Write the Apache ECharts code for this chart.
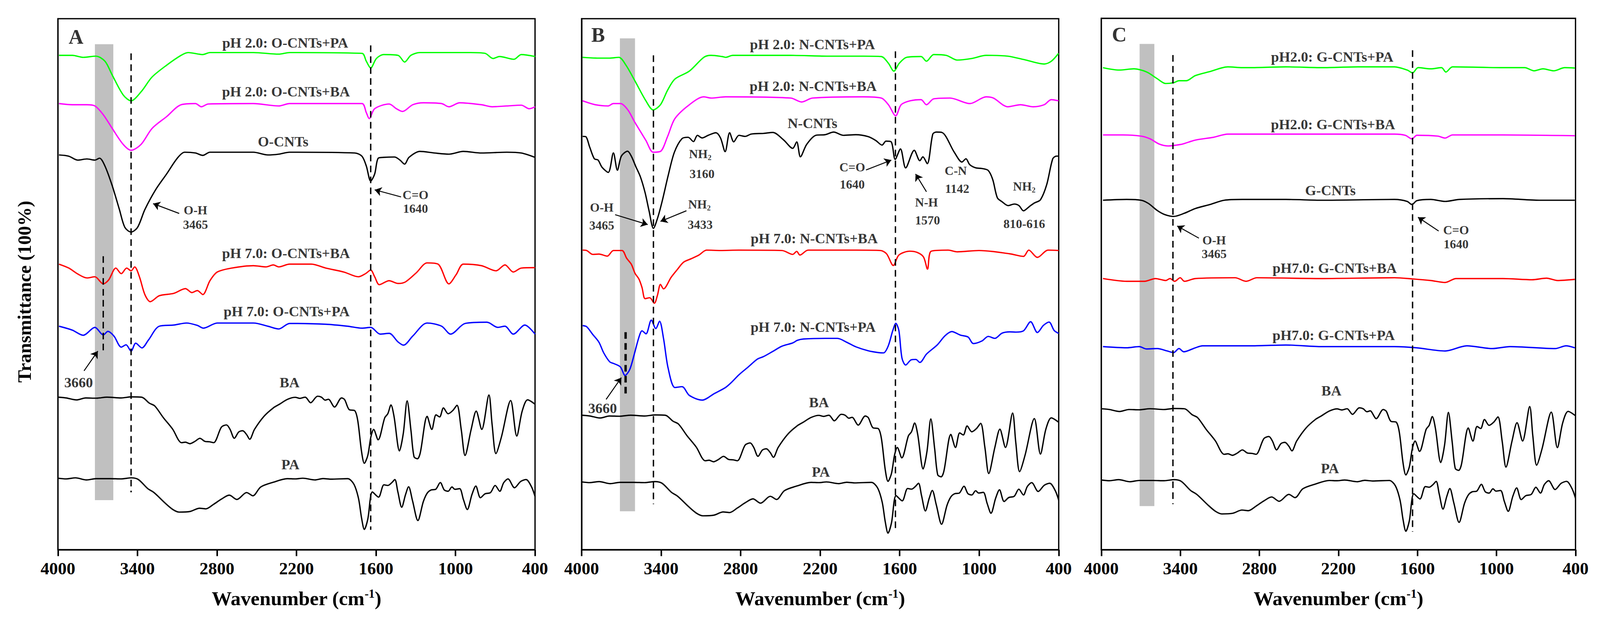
<!DOCTYPE html>
<html>
<head>
<meta charset="utf-8">
<script src="https://cdn.jsdelivr.net/npm/echarts@6/dist/echarts.min.js"></script>
<style>
  html, body { margin: 0; padding: 0; background: #fff; overflow: hidden; }
  #chart { width: 100vw; height: 100vh; }
</style>
</head>
<body>
<div id="chart"></div>
<script>
// ============================================
// FTIR spectra, three panels (O-CNTs / N-CNTs / G-CNTs)
// y values are offset transmittance units (0 = frame bottom, 100 = frame top)
// ============================================

const xTicks = [4000, 3400, 2800, 2200, 1600, 1000, 400];

// reference spectra, shifted for B and C
const baSpectrum = [[3999,28.73],[3938,28.58],[3861,28.21],[3790,28.58],[3713,28.53],[3630,28.73],[3523,28.58],[3446,28.78],[3369,28.73],[3310,27.6],[3269,27.06],[3204,24.85],[3133,22.65],[3091,20.68],[3068,20.15],[3038,20.25],[3005,19.96],[2967,20.39],[2929,20.98],[2890,20.39],[2854,20.32],[2825,20.15],[2766,23.1],[2728,23.5],[2701,22.65],[2669,20.98],[2636,22.16],[2606,22.4],[2576,21.67],[2553,20.8],[2517,22.65],[2446,25.1],[2375,26.7],[2328,27.4],[2269,28.3],[2210,28.7],[2175,28.5],[2134,28.73],[2093,27.67],[2041,28.9],[2012,28.73],[1983,28.16],[1959,28.33],[1913,26.86],[1860,28.58],[1837,28.28],[1802,26.37],[1761,26.2],[1738,24.36],[1709,18.48],[1688,16.27],[1662,17.74],[1639,21.2],[1618,22.65],[1584,20.7],[1534,24.85],[1511,25.6],[1487,27.26],[1464,25.1],[1423,18.6],[1394,21.9],[1365,28.04],[1336,22.4],[1313,17.5],[1287,17.13],[1266,18.24],[1214,25.1],[1179,22.65],[1147,25.4],[1120,25.0],[1091,26.7],[1056,25.6],[1021,26.2],[989,27.2],[957,22.65],[928,17.74],[882,22.65],[844,26.1],[802,22.65],[748,29.14],[724,23.6],[695,18.1],[654,21.2],[584,28.09],[538,21.4],[497,26.1],[456,28.23],[400,27.4]];
const paSpectrum = [[3999,13.46],[3938,13.33],[3867,13.53],[3784,13.14],[3713,13.38],[3606,13.38],[3523,13.33],[3446,13.53],[3393,13.21],[3322,11.5],[3275,10.76],[3192,8.8],[3133,7.57],[3085,7.08],[3002,7.2],[2932,7.81],[2884,7.69],[2825,8.55],[2766,9.53],[2707,10.27],[2650,9.46],[2576,10.76],[2529,10.15],[2470,11.81],[2375,12.7],[2269,13.38],[2210,13.33],[2152,13.46],[2058,13.14],[2000,13.4],[1942,13.28],[1814,13.38],[1767,12.35],[1732,9.66],[1709,5.98],[1688,3.82],[1662,5.74],[1627,10.88],[1581,9.9],[1540,12.23],[1511,12.1],[1482,12.6],[1458,13.21],[1435,10.88],[1406,7.99],[1377,10.39],[1354,11.86],[1324,9.17],[1284,5.49],[1243,9.05],[1214,10.64],[1185,11.25],[1150,11.37],[1115,12.65],[1085,11.25],[1056,11.0],[1027,11.81],[1004,11.37],[969,11.5],[940,9.41],[911,7.57],[876,10.39],[847,11.98],[812,9.78],[777,10.52],[736,10.76],[701,12.1],[666,11.0],[637,12.6],[604,13.33],[555,11.67],[509,12.84],[468,13.21],[427,11.86],[400,10.02]];
const baShift = [0, -3.4, -2.2];
const paShift = [0, -0.7, -0.35];

// panel A: O-CNTs
const aGreen = [[3992,93.1],[3891,93.1],[3809,92.73],[3713,92.95],[3645,91.99],[3590,89.38],[3508,85.66],[3448,84.54],[3372,86.25],[3290,89.01],[3180,91.24],[3071,93.1],[3017,93.63],[2907,93.25],[2853,93.63],[2525,93.63],[2334,93.33],[2252,93.63],[1706,93.48],[1673,91.99],[1640,90.72],[1597,92.51],[1542,93.25],[1433,93.1],[1384,91.84],[1337,93.1],[1269,93.63],[886,93.63],[777,93.48],[717,92.51],[668,92.88],[559,92.36],[504,93.25],[400,92.88]];
const aMagenta = [[3992,84.02],[3891,83.8],[3781,83.8],[3721,83.57],[3658,81.93],[3590,79.33],[3508,76.35],[3448,75.23],[3372,76.35],[3290,79.33],[3180,81.56],[3071,83.8],[2962,84.02],[2918,83.42],[2866,83.94],[2525,84.02],[2334,83.57],[2252,84.02],[1706,84.02],[1673,82.31],[1651,81.19],[1610,83.05],[1501,83.94],[1446,83.05],[1400,82.53],[1323,83.8],[1241,84.17],[1105,84.02],[1050,83.42],[968,84.17],[804,83.8],[723,83.42],[613,83.57],[504,83.72],[444,83.05],[400,83.42]];
const aBlack = [[3992,74.34],[3918,74.11],[3850,73.37],[3781,73.59],[3721,73.37],[3686,73.74],[3645,72.25],[3590,68.53],[3536,64.06],[3495,60.71],[3448,59.82],[3399,60.71],[3344,64.06],[3263,67.78],[3180,70.76],[3099,73.74],[3044,74.86],[2962,74.71],[2907,74.26],[2853,74.86],[2525,74.86],[2416,74.34],[2334,74.49],[2252,74.86],[1760,74.71],[1706,74.11],[1673,72.25],[1640,69.42],[1610,70.76],[1583,73.74],[1542,73.89],[1460,73.96],[1419,73.37],[1384,72.62],[1351,73.89],[1269,75.01],[1159,74.71],[1050,74.49],[941,75.01],[804,74.71],[613,74.86],[504,74.71],[400,73.89]];
const aRed = [[3992,53.78],[3918,53.04],[3850,51.92],[3781,51.18],[3721,51.4],[3658,50.06],[3617,50.81],[3563,53.04],[3522,51.99],[3481,53.04],[3448,52.52],[3421,53.26],[3385,51.4],[3344,48.05],[3303,46.71],[3235,47.83],[3126,48.27],[3038,49.17],[2989,48.42],[2948,48.8],[2907,48.05],[2853,50.66],[2798,52.29],[2689,53.04],[2525,53.49],[2429,53.26],[2375,53.64],[2334,53.26],[2252,53.78],[2088,53.78],[1979,53.04],[1842,52.29],[1733,51.4],[1679,51.99],[1640,52.67],[1610,51.4],[1575,49.91],[1501,50.66],[1433,50.14],[1378,50.43],[1296,52.15],[1214,54.01],[1132,53.78],[1050,50.06],[996,51.77],[941,53.78],[804,53.49],[695,52.52],[627,53.64],[564,52.29],[504,53.04],[400,53.12]];
const aBlue = [[3992,42.09],[3891,41.35],[3809,40.38],[3721,41.87],[3658,40.45],[3623,41.12],[3577,40.23],[3522,38.15],[3486,38.59],[3448,37.4],[3413,38.89],[3366,38.0],[3317,39.49],[3235,42.09],[3126,42.31],[3030,42.69],[2948,42.24],[2902,41.72],[2798,42.69],[2525,42.69],[2416,42.09],[2334,41.57],[2252,42.61],[1979,42.46],[1815,42.09],[1706,41.72],[1640,41.87],[1569,40.6],[1501,40.75],[1433,39.11],[1392,38.52],[1323,40.23],[1214,42.69],[1105,42.09],[1037,40.6],[927,42.61],[763,42.84],[681,41.87],[627,42.09],[564,40.6],[477,42.31],[400,40.6]];

// panel B: N-CNTs
const bGreen = [[3993,92.73],[3870,92.58],[3788,92.58],[3719,92.73],[3665,91.24],[3597,88.26],[3515,84.54],[3460,82.83],[3405,83.8],[3351,86.55],[3296,88.64],[3187,90.13],[3078,92.73],[3023,93.1],[2941,92.88],[2914,92.73],[2859,93.1],[2422,93.1],[2149,92.95],[1876,92.95],[1739,92.88],[1685,91.61],[1644,90.13],[1603,91.61],[1548,92.73],[1439,92.88],[1398,91.99],[1343,93.25],[1248,93.1],[1166,92.21],[1057,92.51],[947,93.1],[784,92.95],[647,92.21],[510,91.47],[456,91.99],[401,93.48]];
const bMagenta = [[3993,84.54],[3897,83.8],[3801,83.57],[3760,84.02],[3706,84.02],[3651,82.83],[3597,80.44],[3515,77.09],[3460,74.86],[3405,75.01],[3351,77.84],[3296,81.19],[3187,83.8],[3078,85.29],[3023,85.06],[2914,85.29],[2422,85.06],[2340,84.32],[2258,85.06],[1876,85.29],[1739,85.06],[1685,83.8],[1630,81.71],[1589,83.8],[1521,84.54],[1439,84.76],[1398,83.8],[1343,84.91],[1221,85.06],[1070,84.02],[947,85.29],[893,85.06],[784,83.42],[688,83.8],[592,83.42],[510,83.8],[456,84.76],[401,84.54]];
const bBlack = [[3992,77.84],[3969,77.8],[3939,75.83],[3904,73.63],[3876,73.38],[3846,72.03],[3799,71.05],[3760,74.73],[3730,71.47],[3700,74.12],[3653,75.05],[3625,74.12],[3591,72.16],[3556,70.2],[3521,67.25],[3491,63.82],[3458,60.51],[3428,62.35],[3393,65.54],[3347,70.44],[3300,74.85],[3242,77.43],[3196,77.67],[3156,76.86],[3126,78.04],[3091,77.55],[3045,78.04],[2987,78.53],[2952,77.55],[2917,74.97],[2883,78.53],[2852,76.81],[2813,78.04],[2766,77.84],[2720,78.28],[2627,78.41],[2557,78.58],[2476,77.18],[2407,75.59],[2377,76.81],[2349,74.0],[2302,76.32],[2233,78.04],[2163,78.16],[2098,78.65],[2024,78.04],[1931,78.16],[1838,77.8],[1780,77.06],[1733,76.2],[1703,76.94],[1664,76.81],[1634,73.51],[1594,75.47],[1555,71.91],[1490,75.22],[1448,73.26],[1425,73.99],[1392,72.69],[1350,78.28],[1323,78.65],[1281,78.58],[1188,74.85],[1130,73.01],[1100,73.63],[1072,72.53],[1026,71.91],[979,71.79],[932,71.42],[898,69.71],[863,66.27],[828,65.54],[782,64.8],[735,65.1],[700,64.8],[666,63.82],[619,64.68],[584,65.29],[538,65.9],[491,68.72],[445,73.63],[417,74.12],[400,74.12]];
const bRed = [[3992,56.42],[3962,56.35],[3916,55.61],[3869,55.68],[3806,55.29],[3760,56.35],[3695,56.35],[3660,54.88],[3625,53.77],[3597,52.06],[3567,50.95],[3544,49.36],[3521,47.28],[3486,47.45],[3451,46.42],[3428,47.89],[3405,49.97],[3382,49.12],[3324,51.32],[3277,52.79],[3231,54.14],[3173,54.8],[3115,55.49],[3057,56.42],[2952,56.35],[2813,56.42],[2488,56.35],[2407,55.61],[2377,56.18],[2353,55.49],[2291,56.42],[1931,56.42],[1745,56.35],[1699,55.73],[1648,53.53],[1606,55.49],[1524,56.22],[1467,55.98],[1420,55.12],[1390,52.84],[1362,56.22],[1234,56.42],[1165,56.1],[1002,56.35],[770,55.73],[666,55.24],[626,56.42],[561,55.05],[480,56.42],[400,56.35]];
const bBlue = [[3992,42.2],[3962,42.0],[3916,40.54],[3869,39.07],[3834,37.11],[3788,35.39],[3753,35.02],[3707,34.41],[3672,32.82],[3637,33.92],[3602,36.86],[3567,40.05],[3544,41.22],[3514,40.66],[3474,43.23],[3440,41.64],[3412,43.04],[3382,39.8],[3347,34.17],[3296,30.55],[3242,30.7],[3187,29.06],[3091,28.17],[2997,29.43],[2914,30.55],[2871,31.47],[2813,32.94],[2743,34.41],[2674,35.88],[2627,36.37],[2557,37.35],[2488,38.33],[2407,38.94],[2372,39.43],[2325,39.68],[2163,39.8],[2070,39.8],[2000,39.07],[1931,38.21],[1838,37.47],[1757,37.11],[1722,37.06],[1687,38.33],[1652,41.27],[1629,42.62],[1606,41.27],[1583,36.12],[1555,34.78],[1513,35.76],[1478,35.83],[1448,35.27],[1397,36.86],[1316,38.58],[1258,40.29],[1207,41.08],[1142,40.41],[1084,40.05],[1044,38.82],[979,39.31],[932,40.17],[882,39.8],[828,40.78],[770,41.03],[724,40.98],[666,41.22],[612,42.94],[561,40.9],[515,42.25],[473,42.87],[434,41.27],[400,40.73]];

// panel C: G-CNTs
const cGreen = [[3987,90.72],[3863,90.27],[3753,90.5],[3698,90.27],[3643,89.75],[3575,88.64],[3511,87.74],[3451,87.89],[3410,88.26],[3355,88.26],[3286,89.23],[3176,89.98],[3039,90.87],[2929,90.72],[2874,90.72],[2599,90.87],[2324,90.72],[2049,90.87],[1774,90.87],[1678,90.27],[1637,89.75],[1595,90.72],[1499,90.5],[1417,90.72],[1384,89.9],[1334,90.87],[950,90.72],[785,90.72],[716,90.13],[647,90.5],[565,90.13],[482,90.72],[405,90.65]];
const cMagenta = [[3987,78.06],[3836,78.06],[3698,77.84],[3629,77.32],[3561,76.35],[3492,75.98],[3437,76.12],[3382,76.35],[3286,77.09],[3149,77.61],[3039,78.21],[2874,78.21],[2324,78.21],[1774,78.21],[1692,77.99],[1642,77.32],[1604,77.99],[1445,77.84],[1390,77.47],[1334,78.06],[950,78.06],[405,77.91]];
const cBlack = [[3987,65.77],[3808,65.92],[3698,65.77],[3643,65.18],[3575,63.84],[3520,63.09],[3451,62.72],[3369,63.32],[3286,64.21],[3176,64.96],[3066,65.77],[2929,65.92],[2599,65.92],[2324,65.77],[1774,65.92],[1678,65.55],[1642,64.96],[1604,65.7],[1499,65.92],[1390,65.55],[1280,65.92],[950,66.07],[675,65.77],[405,65.77]];
const cRed = [[3987,51.03],[3808,50.51],[3671,50.51],[3589,51.03],[3511,50.66],[3478,51.03],[3443,50.51],[3401,51.18],[3369,50.51],[3286,51.03],[2984,51.18],[2901,50.51],[2819,51.18],[2324,51.03],[1774,51.18],[1637,50.96],[1499,50.66],[1390,50.29],[1307,51.03],[950,51.03],[730,50.81],[620,51.1],[537,50.66],[405,50.88]];
const cBlue = [[3987,38.22],[3808,38.0],[3712,38.22],[3657,37.78],[3575,37.85],[3500,37.4],[3451,37.1],[3410,37.85],[3374,37.25],[3286,38.0],[3231,38.37],[2874,38.37],[2599,38.52],[2324,38.22],[1774,38.22],[1609,38.0],[1390,37.4],[1225,38.37],[1031,37.85],[897,38.22],[554,37.85],[472,38.37],[405,38.0]];

// grey band [wn high, wn low, y top, y bottom]
const bandA = [3721, 3582, 95.19, 9.33];
const bandB = [3711, 3597, 96.31, 7.24];
const bandC = [3709, 3597, 95.19, 8.21];

// dashed guide lines [wn, y top, y bottom]
const dashA = [[3448, 93.48, 10.81], [1640, 94.97, 3.74], [3658, 55.27, 36.88]];
const dashB = [[3458, 93.1, 8.58], [1632, 93.85, 3.37], [3668, 40.97, 29.43]];
const dashC = [[3456, 93.1, 8.58], [1637, 94.0, 3.37]];

// arrows [wn tail, y tail, wn head, y head]
const arrowsA = [[3085, 63.32, 3282, 65.18], [1411, 66.44, 1610, 67.78], [3803, 33.68, 3699, 37.4]];
const arrowsB = [[3747, 63.09, 3501, 61.23], [3209, 63.84, 3405, 61.83], [1854, 71.51, 1663, 73.37], [1398, 67.41, 1480, 70.76], [3815, 28.31, 3700, 32.41]];
const arrowsC = [[3259, 58.63, 3424, 60.93], [1439, 59.97, 1596, 62.57]];

// text [text, wn, y, kind]
const notesA = [
    ['A', 3863, 96.6, 'panel'],
    ['pH 2.0: O-CNTs+PA', 2285, 95.49, 'curve'],
    ['pH 2.0: O-CNTs+BA', 2279, 86.25, 'curve'],
    ['O-CNTs', 2301, 76.87, 'curve'],
    ['O-H', 2962, 63.91, 'note'], ['3465', 2962, 61.23, 'note'],
    ['C=O', 1302, 66.82, 'note'], ['1640', 1302, 64.21, 'note'],
    ['pH 7.0: O-CNTs+BA', 2279, 55.87, 'curve'],
    ['pH 7.0: O-CNTs+PA', 2274, 44.85, 'curve'],
    ['3660', 3844, 31.52, 'curve'],
    ['BA', 2252, 31.52, 'curve'],
    ['PA', 2246, 16.03, 'curve']
];
const notesB = [
    ['B', 3875, 96.98, 'panel'],
    ['pH 2.0: N-CNTs+PA', 2258, 95.19, 'curve'],
    ['pH 2.0: N-CNTs+BA', 2253, 87.3, 'curve'],
    ['N-CNTs', 2258, 80.3, 'curve'],
    ['NH{s|2}', 3105, 74.49, 'note'], ['3160', 3091, 70.76, 'note'],
    ['O-H', 3848, 64.43, 'note'], ['3465', 3848, 61.08, 'note'],
    ['NH{s|2}', 3111, 65.03, 'note'], ['3433', 3105, 61.23, 'note'],
    ['C=O', 1958, 72.03, 'note'], ['1640', 1958, 68.75, 'note'],
    ['N-H', 1398, 65.4, 'note'], ['1570', 1390, 62.05, 'note'],
    ['C-N', 1177, 71.36, 'note'], ['1142', 1166, 68.01, 'note'],
    ['NH{s|2}', 660, 68.38, 'note'], ['810-616', 660, 61.38, 'note'],
    ['pH 7.0: N-CNTs+BA', 2245, 58.62, 'curve'],
    ['pH 7.0: N-CNTs+PA', 2253, 41.94, 'curve'],
    ['3660', 3842, 26.68, 'curve'],
    ['BA', 2209, 27.72, 'curve'],
    ['PA', 2195, 14.69, 'curve']
];
const notesC = [
    ['C', 3863, 96.98, 'panel'],
    ['pH2.0: G-CNTs+PA', 2247, 92.73, 'curve'],
    ['pH2.0: G-CNTs+BA', 2241, 80.07, 'curve'],
    ['G-CNTs', 2261, 67.64, 'curve'],
    ['O-H', 3143, 58.25, 'note'], ['3465', 3143, 55.65, 'note'],
    ['C=O', 1307, 60.11, 'note'], ['1640', 1307, 57.51, 'note'],
    ['pH7.0: G-CNTs+BA', 2228, 53.04, 'curve'],
    ['pH7.0: G-CNTs+PA', 2236, 40.38, 'curve'],
    ['BA', 2253, 29.95, 'curve'],
    ['PA', 2264, 15.28, 'curve']
];

const FONT = '"Liberation Serif", "Times New Roman", serif';
const curveColors = ['#00ff00', '#ff00ff', '#000000', '#ff0000', '#0000ff', '#000000', '#000000'];

const panels = [
    { curves: [aGreen, aMagenta, aBlack, aRed, aBlue], band: bandA, dashes: dashA, arrows: arrowsA, notes: notesA },
    { curves: [bGreen, bMagenta, bBlack, bRed, bBlue], band: bandB, dashes: dashB, arrows: arrowsB, notes: notesB },
    { curves: [cGreen, cMagenta, cBlack, cRed, cBlue], band: bandC, dashes: dashC, arrows: arrowsC, notes: notesC }
];

// panel frames as fractions of the 4228 x 1588 page
const grids = [
    { left: '3.62%', top: '3.02%', width: '29.82%', height: '85.64%' },
    { left: '36.35%', top: '3.02%', width: '29.82%', height: '85.64%' },
    { left: '68.83%', top: '2.96%', width: '29.64%', height: '85.70%' }
];

const chart = echarts.init(document.getElementById('chart'), null, { renderer: 'svg' });
const W = chart.getWidth(), H = chart.getHeight();
const S = Math.min(W / 4228, H / 1588);   // scale for sizes given in reference pixels
const textSize = { panel: 54 * S, curve: 38 * S, note: 33 * S };

const xAxes = [], yAxes = [], series = [];

panels.forEach((p, i) => {
    xAxes.push({
        gridIndex: i, type: 'value', min: 400, max: 4000, inverse: true,
        axisLine: { show: true, onZero: false, lineStyle: { color: '#000', width: 3.3 } },
        axisTick: { show: true, inside: false, length: 17 * S, customValues: xTicks, lineStyle: { color: '#000', width: 4 } },
        axisLabel: {
            customValues: xTicks, formatter: v => String(v),
            color: '#000', fontFamily: FONT, fontWeight: 'bold', fontSize: 46 * S, margin: 26 * S
        },
        splitLine: { show: false },
        name: 'Wavenumber (cm{sup|-1})', nameLocation: 'middle', nameGap: 100 * S,
        nameTextStyle: {
            color: '#000', fontFamily: FONT, fontWeight: 'bold', fontSize: 53 * S,
            rich: { sup: { color: '#000', fontFamily: FONT, fontWeight: 'bold', fontSize: 32 * S, padding: [0, 0, 26 * S, 0] } }
        }
    });
    yAxes.push({
        gridIndex: i, type: 'value', min: 0, max: 100,
        axisLine: { show: true, lineStyle: { color: '#000', width: 3.3 } },
        axisTick: { show: false }, axisLabel: { show: false }, splitLine: { show: false }
    });

    // grey band
    series.push({
        type: 'custom', xAxisIndex: i, yAxisIndex: i, z: 1, silent: true, clip: false,
        data: [p.band],
        renderItem: (params, api) => {
            const p1 = api.coord([api.value(0), api.value(2)]);
            const p2 = api.coord([api.value(1), api.value(3)]);
            return {
                type: 'rect',
                shape: { x: Math.min(p1[0], p2[0]), y: p1[1], width: Math.abs(p2[0] - p1[0]), height: p2[1] - p1[1] },
                style: { fill: '#c0c0c0' }
            };
        }
    });

    // spectra
    const spectra = p.curves.concat([
        baSpectrum.map(d => [d[0], d[1] + baShift[i]]),
        paSpectrum.map(d => [d[0], d[1] + paShift[i]])
    ]);
    spectra.forEach((data, k) => {
        series.push({
            type: 'line', xAxisIndex: i, yAxisIndex: i, data: data, z: 3, silent: true,
            smooth: 0.3, symbol: 'none',
            lineStyle: { color: curveColors[k], width: 3.4 }
        });
    });

    // dashed guides
    p.dashes.forEach((d, k) => {
        series.push({
            type: 'line', xAxisIndex: i, yAxisIndex: i, z: 5, silent: true, symbol: 'none',
            data: [[d[0], d[1]], [d[0], d[2]]],
            lineStyle: { color: '#000', width: (i === 1 && k === 2) ? 6 : 3.5, type: [17, 11] }
        });
    });

    // text labels + arrows
    series.push({
        type: 'scatter', xAxisIndex: i, yAxisIndex: i, z: 6, silent: true, symbolSize: 0,
        data: p.notes.map(n => ({
            value: [n[1], n[2]],
            label: { formatter: n[0], fontSize: textSize[n[3]] }
        })),
        label: {
            show: true, position: 'inside', color: '#000', fontFamily: FONT, fontWeight: 'bold',
            rich: { s: { color: '#000', fontFamily: FONT, fontWeight: 'bold', fontSize: 20 * S, padding: [18 * S, 0, 0, 0] } }
        },
        markLine: {
            silent: true, animation: false, symbol: ['none', 'arrow'], symbolSize: 18 * S,
            label: { show: false },
            lineStyle: { color: '#000', width: 2.5, type: 'solid' },
            data: p.arrows.map(a => [{ coord: [a[0], a[1]] }, { coord: [a[2], a[3]] }])
        }
    });
});

chart.setOption({
    backgroundColor: '#fff',
    animation: false,
    grid: grids.map(g => Object.assign({ show: true, borderColor: '#000', borderWidth: 3.3, containLabel: false }, g)),
    xAxis: xAxes,
    yAxis: yAxes,
    series: series,
    graphic: [{
        type: 'text', silent: true,
        x: W * 65 / 4228, y: H * 747 / 1588, rotation: Math.PI / 2,
        style: {
            text: 'Transmittance (100%)', fill: '#000',
            fontFamily: FONT, fontWeight: 'bold', fontSize: 50 * S,
            align: 'center', verticalAlign: 'middle',
            textAlign: 'center', textVerticalAlign: 'middle'
        }
    }]
});
</script>
</body>
</html>
